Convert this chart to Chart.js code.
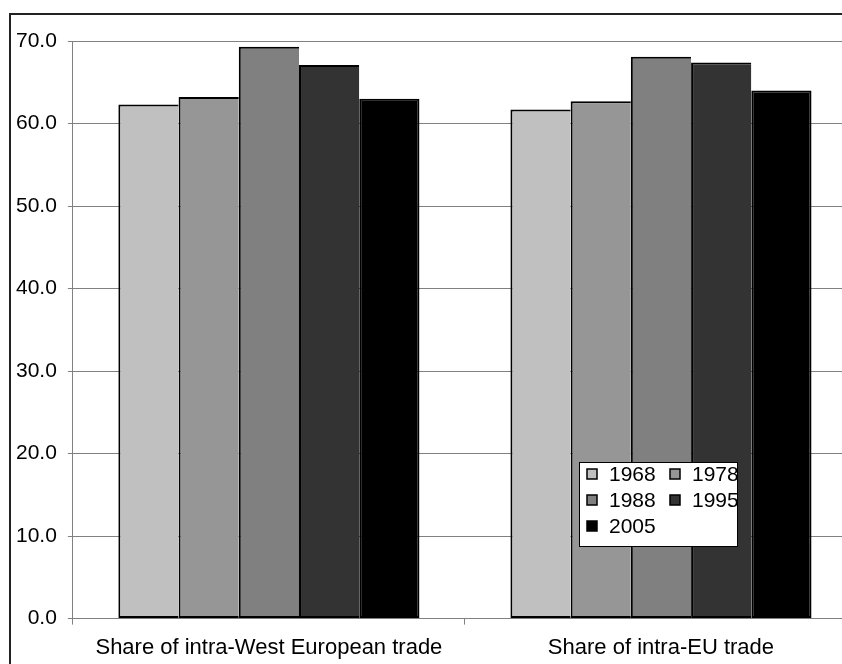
<!DOCTYPE html>
<html>
<head>
<meta charset="utf-8">
<script src="https://cdn.jsdelivr.net/npm/chart.js@4/dist/chart.umd.min.js"></script>
<style>
  html, body { margin: 0; padding: 0; background: #fff; overflow: hidden; width: 842px; height: 664px; }
  #wrap { position: absolute; left: 0; top: 0; width: 862px; height: 675px; }
  #frame { position: absolute; left: 9px; top: 13px; width: 900px; height: 700px; border: 2px solid #222; pointer-events: none; }
  canvas { position: absolute; left: 0; top: 0; }
</style>
</head>
<body>
<div id="wrap">
  <canvas id="chart" width="862" height="675"></canvas>
  <div id="frame"></div>
</div>
<script>
// Trade shares (%) by year
const categories = ['Share of intra-West European trade', 'Share of intra-EU trade'];
const years = ['1968', '1978', '1988', '1995', '2005'];
const westEuropeShare = [62.3, 63.2, 69.3, 67.1, 63.0];
const euShare = [61.7, 62.7, 68.1, 67.4, 64.0];
const yearColors = ['#c0c0c0', '#969696', '#808080', '#333333', '#000000'];
const yTicks = [0, 10, 20, 30, 40, 50, 60, 70];

const FONT = '"Liberation Sans", Arial, sans-serif';

const datasets = years.map((y, i) => ({
  label: y,
  data: [westEuropeShare[i], euShare[i]],
  backgroundColor: yearColors[i],
  borderColor: '#000',
  borderSkipped: false,
  borderWidth: { top: 2, left: 2, bottom: 2, right: i === years.length - 1 ? 2 : 0 }
}));

// Boxed legend drawn inside the plot, two entries per row
const boxLegend = {
  id: 'boxLegend',
  afterDatasetsDraw(chart) {
    const ctx = chart.ctx;
    const x0 = 579, y0 = 462, w = 159, h = 85;
    ctx.save();
    ctx.fillStyle = '#fff';
    ctx.fillRect(x0, y0, w, h);
    ctx.strokeStyle = '#000';
    ctx.lineWidth = 1;
    ctx.strokeRect(x0 + 0.5, y0 + 0.5, w - 1, h - 1);
    ctx.font = '21px ' + FONT;
    ctx.textBaseline = 'middle';
    ctx.fillStyle = '#000';
    chart.data.datasets.forEach((ds, i) => {
      const col = i % 2, row = Math.floor(i / 2);
      const bx = x0 + 8 + col * 83;
      const cy = y0 + 12 + row * 26;
      ctx.fillStyle = ds.backgroundColor;
      ctx.fillRect(bx, cy - 5, 10, 10);
      ctx.strokeStyle = '#000';
      ctx.lineWidth = 1.5;
      ctx.strokeRect(bx, cy - 5, 10, 10);
      ctx.fillStyle = '#000';
      ctx.fillText(ds.label, bx + 22, cy + 1);
    });
    ctx.restore();
  }
};

new Chart(document.getElementById('chart'), {
  type: 'bar',
  data: { labels: categories, datasets },
  options: {
    responsive: false,
    animation: false,
    devicePixelRatio: 1,
    layout: { padding: { left: 5, right: 5, top: 41, bottom: 4 } },
    plugins: { legend: { display: false }, tooltip: { enabled: false } },
    datasets: { bar: { categoryPercentage: 0.768, barPercentage: 1.0 } },
    scales: {
      x: {
        grid: { display: true, drawOnChartArea: false, drawTicks: true, tickLength: 6, color: '#808080', offset: true },
        border: { color: '#808080', width: 1 },
        ticks: { color: '#000', font: { family: FONT, size: 22 }, padding: 10, maxRotation: 0 }
      },
      y: {
        min: 0, max: 70,
        afterBuildTicks(scale) { scale.ticks = yTicks.map(v => ({ value: v })); },
        grid: { color: '#808080', lineWidth: 1, tickLength: 5, drawTicks: true },
        border: { color: '#808080', width: 1 },
        ticks: { color: '#000', font: { family: FONT, size: 21 }, padding: 11, callback: v => Number(v).toFixed(1) }
      }
    }
  },
  plugins: [boxLegend]
});
</script>
</body>
</html>
